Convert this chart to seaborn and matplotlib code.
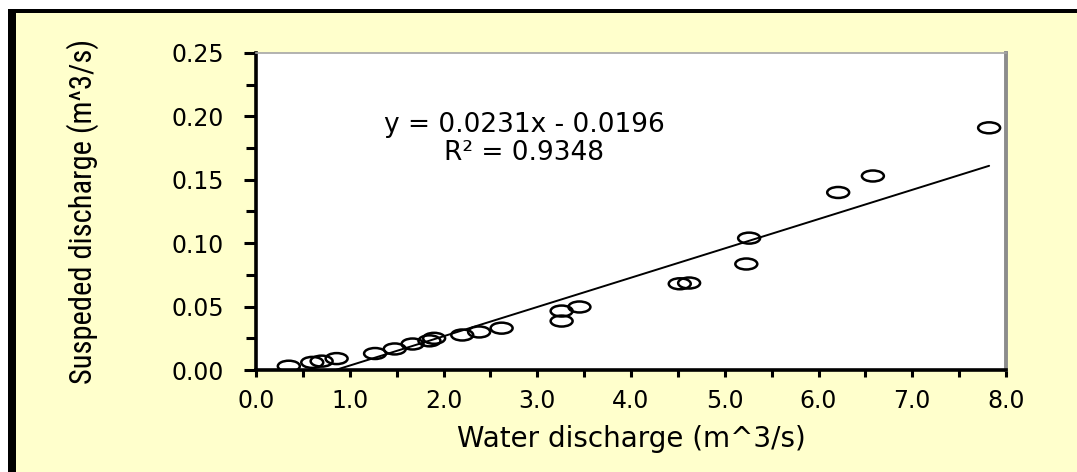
import numpy as np
import pandas as pd
import matplotlib
matplotlib.use("Agg")
import matplotlib.pyplot as plt
import seaborn as sns
from matplotlib.path import Path
from matplotlib.patches import Rectangle
from matplotlib.lines import Line2D
from matplotlib.ticker import MultipleLocator, FormatStrFormatter

# ---- data ----
water_discharge = [0.35, 0.60, 0.70, 0.86, 1.27, 1.48, 1.67, 1.85, 1.90, 2.20,
                   2.38, 2.62, 3.26, 3.26, 3.45, 4.52, 4.62, 5.23, 5.26, 6.21,
                   6.58, 7.82]
suspended_discharge = [0.003, 0.006, 0.007, 0.009, 0.013, 0.0166, 0.0205, 0.023,
                       0.025, 0.0276, 0.030, 0.033, 0.0465, 0.0386, 0.0497, 0.068,
                       0.0686, 0.0836, 0.104, 0.140, 0.153, 0.191]
slope = 0.0231
intercept = -0.0196
r_squared = 0.9348
x_ticks = [0, 1, 2, 3, 4, 5, 6, 7, 8]
y_ticks = [0.00, 0.05, 0.10, 0.15, 0.20, 0.25]

df = pd.DataFrame({"x": water_discharge, "y": suspended_discharge})

sns.set_theme(style="white")
plt.rcParams['font.family'] = ['DejaVu Sans']
WIDE = ["DejaVu Sans"]
NARROW = ["Liberation Sans Narrow", "Roboto Condensed", "Roboto"]

fig = plt.figure(figsize=(10.77, 4.72), dpi=100, facecolor="white")

# yellow frame
W, H = 1077, 472
fig.patches.append(Rectangle((12 / W, -0.1), 1.2, (H - 11) / H + 0.1, transform=fig.transFigure,
                             facecolor="#FFFFCC", edgecolor="none", zorder=-10))
fig.lines.append(Line2D([12 / W, 12 / W], [-0.1, 1 - 9 / H], transform=fig.transFigure,
                        color="black", linewidth=8 * 0.72, solid_capstyle="butt"))
fig.lines.append(Line2D([8 / W, 1.2], [1 - 11 / H, 1 - 11 / H], transform=fig.transFigure,
                        color="black", linewidth=4 * 0.72, solid_capstyle="butt"))

ax = fig.add_axes([256 / W, 1 - 370 / H, (1006 - 256) / W, (370 - 53) / H])
ax.set_facecolor("white")

# elliptical open marker (as in the reference)
circ = Path.unit_circle()
ell = Path(circ.vertices * np.array([1.0, 0.5]), circ.codes)

sns.scatterplot(data=df, x="x", y="y", ax=ax, marker=ell, s=250,
                facecolors="none", edgecolor="black", linewidth=1.8, zorder=3)

xs = np.array([min(water_discharge), max(water_discharge)])
ax.plot(xs, slope * xs + intercept, color="black", linewidth=1.4, zorder=2)

ax.set_xlim(0, 8)
ax.set_ylim(0, 0.25)
ax.set_xticks(x_ticks)
ax.set_yticks(y_ticks)
ax.xaxis.set_major_formatter(FormatStrFormatter("%.1f"))
ax.yaxis.set_major_formatter(FormatStrFormatter("%.2f"))
ax.xaxis.set_minor_locator(MultipleLocator(0.5))
ax.yaxis.set_minor_locator(MultipleLocator(0.025))

ax.tick_params(axis="x", which="both", direction="out", length=5, width=2.2,
               color="black", bottom=True, labelsize=17, pad=9, labelcolor="black")
ax.tick_params(axis="y", which="major", direction="out", length=9, width=2.2,
               color="black", left=True, labelsize=17, pad=14, labelcolor="black")
ax.tick_params(axis="y", which="minor", direction="out", length=7, width=2.2,
               color="black", left=True)
for lab in ax.get_xticklabels() + ax.get_yticklabels():
    lab.set_family(WIDE)

for s in ["left", "bottom"]:
    ax.spines[s].set_color("black")
    ax.spines[s].set_linewidth(2.6)
ax.spines["right"].set_color("#8c8c8c")
ax.spines["right"].set_linewidth(2.8)
ax.spines["top"].set_color("#a6a6a6")
ax.spines["top"].set_linewidth(1.2)

ax.set_xlabel("Water discharge (m^3/s)", fontsize=20, color="black", labelpad=8,
              family=WIDE)
ax.set_ylabel("Suspeded discharge (m^3/s)", fontsize=22, color="black",
              family=NARROW)
ax.yaxis.set_label_coords(-0.209, 0.5)

ax.text(0.358, 0.772, f"y = {slope}x - {abs(intercept)}", transform=ax.transAxes,
        ha="center", va="center", fontsize=19, color="black", family=WIDE)
ax.text(0.358, 0.684, f"R\u00b2 = {r_squared}", transform=ax.transAxes,
        ha="center", va="center", fontsize=19, color="black", family=WIDE)

fig.savefig("out.png", dpi=100, facecolor="white")
